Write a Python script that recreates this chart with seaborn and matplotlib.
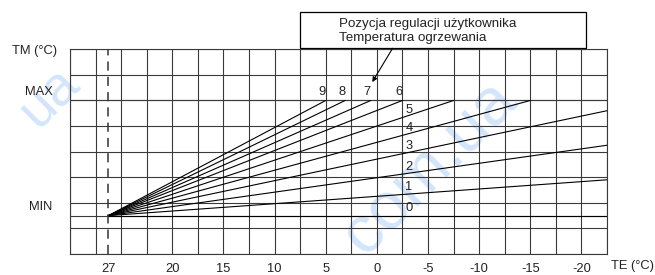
import numpy as np
import pandas as pd
import matplotlib.pyplot as plt
import matplotlib.transforms as mtransforms
from matplotlib.patches import Rectangle
import seaborn as sns

# heating curves: all start at (27 on the dashed line, MIN) and go out to an end point
curve_ids = [0, 1, 2, 3, 4, 5, 6, 7, 8, 9]
start_te = 26.25
end_te = [-22.5, -22.5, -22.5, -22.5, -15.0, -7.5, -2.5, 0.6, 3.1, 5.0]
end_tm = [25.0, 39.0, 52.5, 66.0, 70.0, 70.0, 70.0, 70.0, 70.0, 70.0]
tm_min = 25
tm_max = 70

xtick_vals = [26.25, 20, 15, 10, 5, 0, -5, -10, -15, -20]
xtick_labels = ['27', '20', '15', '10', '5', '0', '-5', '-10', '-15', '-20']

box_text = "Pozycja regulacji użytkownika\nTemperatura ogrzewania"

rows = []
for c, te, tm in zip(curve_ids, end_te, end_tm):
    rows.append({'curve': c, 'TE': start_te, 'TM': tm_min})
    rows.append({'curve': c, 'TE': te, 'TM': tm})
df = pd.DataFrame(rows)

sns.set_style('white')
plt.rcParams['font.family'] = ['Liberation Sans', 'DejaVu Sans']

ink = '#222222'
grid_c = '#3a3a3a'

fig = plt.figure(figsize=(6.55, 2.75), dpi=100)
ax = fig.add_axes([70 / 655, 1 - 254 / 275, 537 / 655, 204.7 / 275])
ax.set_facecolor('none')

# watermark
fig.text(430 / 655, 1 - 168 / 275, 'com.ua', rotation=45, fontsize=48,
         color='#d3e5fb', ha='center', va='center', zorder=-1)
fig.text(50 / 655, 1 - 98 / 275, 'ua', rotation=45, fontsize=40,
         color='#d3e5fb', ha='center', va='center', zorder=-1)

sns.lineplot(data=df, x='TE', y='TM', units='curve', estimator=None, sort=False,
             color='black', linewidth=0.8, legend=False, ax=ax)

ax.set_xlim(30, -22.5)
ax.set_ylim(10, 90)

# grid (keep minor lines that sit on major tick positions)
ax.xaxis.remove_overlapping_locs = False
ax.yaxis.remove_overlapping_locs = False
ax.set_xticks(np.arange(-22.5, 30.01, 2.5), minor=True)
ax.set_xticks(xtick_vals)
ax.set_xticklabels(xtick_labels, fontsize=9.3, color=ink)
ax.set_yticks(np.arange(10, 90.01, 10), minor=True)
ax.set_yticks([tm_min, tm_max])
ax.set_yticklabels([])
ax.grid(False)
ax.grid(True, which='minor', axis='both', color=grid_c, linewidth=0.8)
ax.grid(True, which='major', axis='y', color=grid_c, linewidth=0.8)
ax.tick_params(axis='x', which='both', length=0, pad=6.5)
ax.tick_params(axis='y', which='minor', length=0)
ax.tick_params(axis='y', which='major', length=5, width=0.8, color=grid_c, direction='out')
for s in ax.spines.values():
    s.set_color(grid_c)
    s.set_linewidth(0.8)
ax.set_xlabel('')
ax.set_ylabel('')

ax.axvline(start_te, color='#333333', linewidth=1.1, linestyle=(0, (6, 4)))

# curve numbers
lab_te = -2.5
for c, te, tm in zip(curve_ids, end_te, end_tm):
    if tm >= tm_max and te > -5:
        ax.annotate(str(c), (te, tm), xytext=(-2.5, 6.2), textcoords='offset points',
                    ha='center', va='center', fontsize=9.3, color=ink)
    else:
        y = tm_min + (tm - tm_min) * (start_te - lab_te) / (start_te - te)
        ax.annotate(str(c), (lab_te, y), xytext=(2.0, 5.4), textcoords='offset points',
                    ha='left', va='center', fontsize=9.3, color=ink)

# axis captions
trans_y = mtransforms.blended_transform_factory(ax.transAxes, ax.transData)
ax.annotate('MAX', (0, tm_max), xycoords=trans_y, xytext=(-12.5, 6.2),
            textcoords='offset points', ha='right', va='center', fontsize=9.3, color=ink)
ax.annotate('MIN', (0, tm_min), xycoords=trans_y, xytext=(-13, 6.2),
            textcoords='offset points', ha='right', va='center', fontsize=9.3, color=ink)
ax.annotate('TM (°C)', (0, 1), xycoords='axes fraction', xytext=(-9.5, -1.3),
            textcoords='offset points', ha='right', va='center', fontsize=9.3, color=ink)
ax.annotate('TE (°C)', (1, 0), xycoords='axes fraction', xytext=(3, -8.6),
            textcoords='offset points', ha='left', va='center', fontsize=9.3, color=ink)

# legend box with arrow
ax.add_patch(Rectangle((7.5, 90.4), -27.9, 14.3, fill=False, edgecolor='black',
                       linewidth=0.9, clip_on=False))
ax.text(3.73, 97.2, box_text, ha='left', va='center', fontsize=9.6, color=ink,
        linespacing=1.25, clip_on=False)
ax.annotate('', xy=(0.45, 77.2), xytext=(-1.54, 90.4),
            arrowprops=dict(arrowstyle='-|>', color='black', lw=0.8,
                            mutation_scale=7, shrinkA=0, shrinkB=0),
            annotation_clip=False)

plt.savefig('out.png', dpi=100)
